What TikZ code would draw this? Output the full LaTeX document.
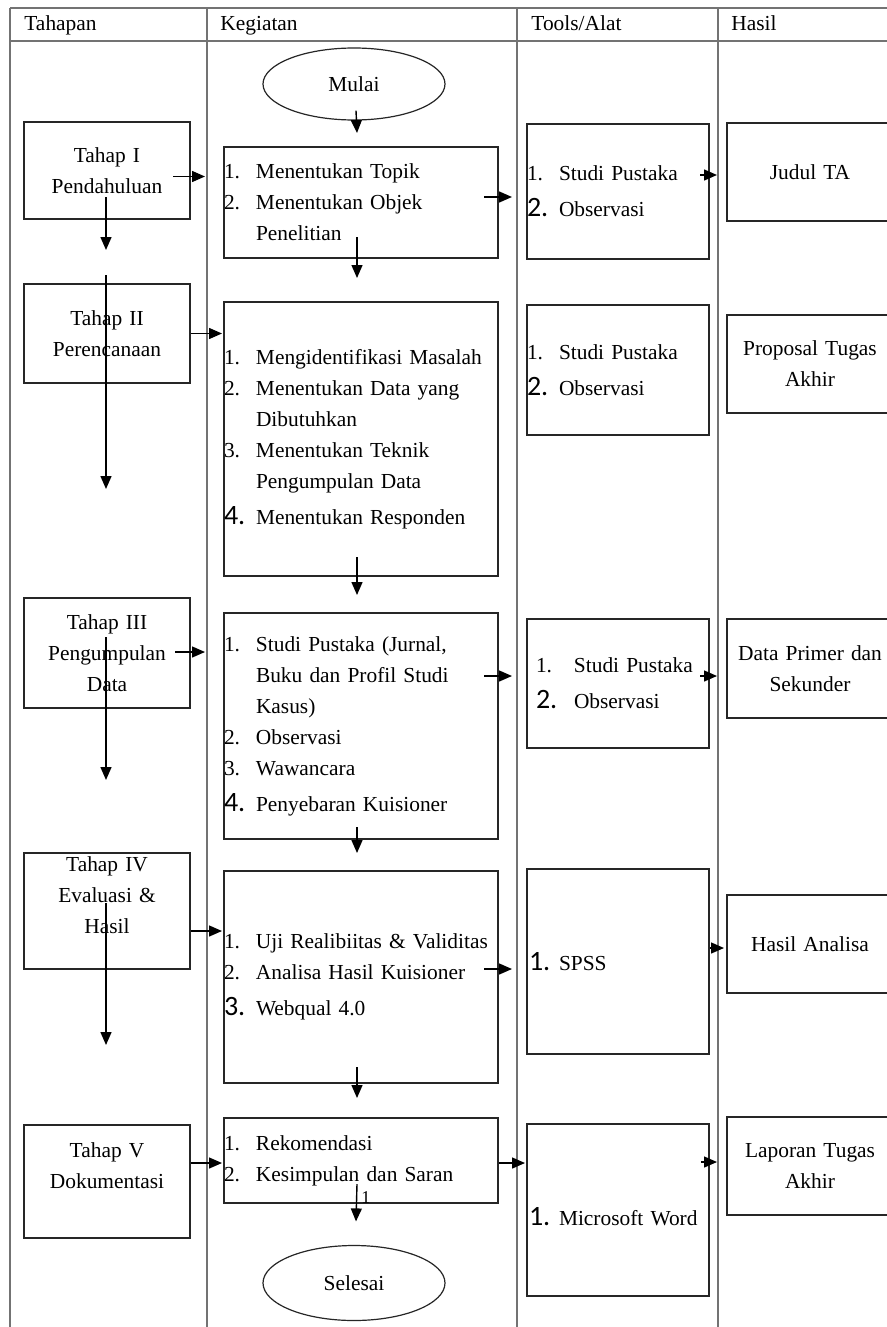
\documentclass[tikz,border=0pt]{standalone}
\usepackage{fontspec}
\setmainfont{Liberation Serif}
\newfontfamily\numfont{Carlito}
\usetikzlibrary{shapes,arrows,arrows.meta,calc,positioning}
\tikzstyle{arrow} = [line width=0.7pt, ->, >={Triangle[length=6.5pt,width=5.5pt]}]
\newcommand{\nr}[2][16pt]{\makebox[#1][l]{#2}}
\newcommand{\bignr}[2][16pt]{\makebox[#1][l]{\numfont\fontsize{14}{15.5}\selectfont #2}}
\newcommand{\ind}{\hspace*{16pt}}

\begin{document}
\begin{tikzpicture}[x=0.5pt,y=-0.5pt,font=\fontsize{10.7}{15.5}\selectfont]
\tikzset{box/.style={draw=black!85,line width=1pt,inner sep=0pt,anchor=north west},
kbox/.style={box,text width=137pt,align=left},
tbox/.style={box,text width=83pt,align=center},
obox/.style={box,text width=91pt,align=left},
term/.style={ellipse,draw=black!85,line width=0.6pt,minimum width=91pt,minimum height=36pt,inner sep=0pt},
grid/.style={draw=black!55,line width=0.7pt}}
\useasboundingbox (0,0) rectangle (887,1327);
\fill[white] (0,0) rectangle (887,1327);
\clip (0,0) rectangle (887,1327);

\draw[grid] (10,8) -- (900,8);
\draw[grid] (10,41) -- (900,41);
\foreach \x in {10,207,517,718} {
\draw[grid] (\x,8) -- (\x,1340); }
\foreach \x/\l [count=\i] in {24/Tahapan,220/Kegiatan,531/{Tools/Alat},731/Hasil} {
\node[anchor=base west,inner xsep=0pt] (head\i) at (\x,31){\l}; }

\node[term] (mulai) at (354,84){Mulai};
\node[term,minimum height=37.5pt] (selesai) at (354,1283){Selesai};

\node[tbox,minimum height=48.5pt] (t1) at (23,121){Tahap I\\Pendahuluan};
\node[tbox,minimum height=49.5pt] (t2) at (23,283){Tahap II\\Perencanaan};
\node[tbox,minimum height=55pt] (t3) at (23,597){Tahap III\\Pengumpulan\\Data};
\node[tbox,minimum height=58pt] (t4) at (23,852){Tahap IV\\Evaluasi \&\\Hasil\\ \mbox{}};
\node[tbox,minimum height=56.5pt] (t5) at (23,1124){Tahap V\\Dokumentasi\\ \mbox{}};

\node[kbox,minimum height=55.5pt] (k1) at (223,146){\nr{1.}Menentukan Topik\\\nr{2.}Menentukan Objek\\\ind Penelitian};
\node[kbox,minimum height=137pt] (k2) at (223,301){\nr{1.}Mengidentifikasi Masalah\\\nr{2.}Menentukan Data yang\\\ind Dibutuhkan\\\nr{3.}Menentukan Teknik\\\ind Pengumpulan Data\\[2.5pt]\bignr{4.}Menentukan Responden};
\node[kbox,minimum height=113pt] (k3) at (223,612){\nr{1.}Studi Pustaka (Jurnal,\\\ind Buku dan Profil Studi\\\ind Kasus)\\\nr{2.}Observasi\\\nr{3.}Wawancara\\[2.5pt]\bignr{4.}Penyebaran Kuisioner};
\node[kbox,minimum height=106pt] (k4) at (223,870){\nr{1.}Uji Realibiitas \& Validitas\\\nr{2.}Analisa Hasil Kuisioner\\[2.5pt]\bignr{3.}Webqual 4.0};
\node[kbox,minimum height=42.5pt] (k5) at (223,1117){\nr{1.}Rekomendasi\\\nr{2.}Kesimpulan dan Saran};

\node[obox,minimum height=67.5pt] (o1) at (526,123){\nr{1.}Studi Pustaka\\[2.5pt]\bignr{2.}Observasi};
\node[obox,minimum height=65pt] (o2) at (526,304){\nr{1.}Studi Pustaka\\[2.5pt]\bignr{2.}Observasi};
\node[obox,minimum height=64.5pt] (o3) at (526,618){\hspace*{4.5pt}\nr[19pt]{1.}Studi Pustaka\\[2.5pt]\hspace*{4.5pt}\bignr[19pt]{2.}Observasi};
\node[obox,minimum height=92.5pt] (o4) at (526,868){\hspace*{1pt}\bignr[15pt]{1.}SPSS};
\node[obox,minimum height=86pt] (o5) at (526,1123){\mbox{}\\\hspace*{1pt}\bignr[15pt]{1.}Microsoft Word};

\node[tbox,minimum height=49pt] (h1) at (726,122){Judul TA};
\node[tbox,minimum height=49pt] (h2) at (726,314){Proposal Tugas\\Akhir};
\node[tbox,minimum height=49.5pt] (h3) at (726,618){Data Primer dan\\Sekunder};
\node[tbox,minimum height=49pt] (h4) at (726,894){Hasil Analisa};
\node[tbox,minimum height=49pt] (h5) at (726,1116){Laporan Tugas\\Akhir};

\draw[arrow] ([shift={(2,-10)}]mulai.south) -- ([shift={(-4,-13)}]k1.north);
\draw[arrow] ([shift={(-4,-22)}]k1.south) -- ([shift={(-4,-23)}]k2.north);
\draw[arrow] ([shift={(-4,-20)}]k2.south) -- ([shift={(-4,-17)}]k3.north);
\draw[arrow] ([shift={(-4,-13)}]k3.south) -- ([shift={(-4,-17)}]k4.north);
\draw[arrow] ([shift={(-4,-17)}]k4.south) -- ([shift={(-4,-19)}]k5.north);
\draw[arrow] ([shift={(-4,-20)}]k5.south) -- node[right,pos=0.375,inner sep=2pt,font=\fontsize{9}{10}\selectfont] (one){1} ([shift={(2,-23.5)}]selesai.north);

\draw[arrow] ([shift={(-1,-23)}]t1.south) -- ([shift={(-1,30)}]t1.south);
\draw[arrow] ([shift={(-1,-8)}]t2.north) -- ([shift={(-1,105)}]t2.south);
\draw[arrow] ([shift={(-1,40)}]t3.north) -- ([shift={(-1,71)}]t3.south);
\draw[arrow] ([shift={(-1,51)}]t4.north) -- ([shift={(-1,75)}]t4.south);

\draw[arrow] ($(t1.east)+(-18,6)$) -- ($(t1.east -| k1.west)+(-18,6)$);
\draw[arrow] (t2.east) -- ($(t2.east -| k2.west)+(-1,0)$);
\draw[arrow] ($(t3.east)+(-16,-1)$) -- ($(t3.east -| k3.west)+(-18,-1)$);
\draw[arrow] ($(t4.east)+(0,20)$) -- ($(t4.east -| k4.west)+(-1,20)$);
\draw[arrow] ($(t5.east)+(0,-18.5)$) -- ($(t5.east -| k5.west)+(-1,-18.5)$);

\draw[arrow] ($(k1.east)+(-15,-5.5)$) -- ($(k1.east -| o1.west)+(-14,-5.5)$);
\draw[arrow] ($(k3.east)+(-15,-50)$) -- ($(k3.east -| o3.west)+(-14,-50)$);
\draw[arrow] ($(k4.east)+(-15,-8)$) -- ($(k4.east -| o4.west)+(-14,-8)$);
\draw[arrow] ($(k5.east)+(0,2.5)$) -- ($(k5.east -| o5.west)+(-1,2.5)$);

\draw[arrow] ($(o1.east)+(-10,-16.5)$) -- ($(o1.east -| h1.west)+(-9,-16.5)$);
\draw[arrow] ($(o3.east)+(-10,-7.5)$) -- ($(o3.east -| h3.west)+(-9,-7.5)$);
\draw[arrow] ($(o4.east)+(0,-13.5)$) -- ($(o4.east -| h4.west)+(-2,-13.5)$);
\draw[arrow] ($(o5.east)+(-9,-48)$) -- ($(o5.east -| h5.west)+(-9,-48)$);
\end{tikzpicture}
\end{document}
